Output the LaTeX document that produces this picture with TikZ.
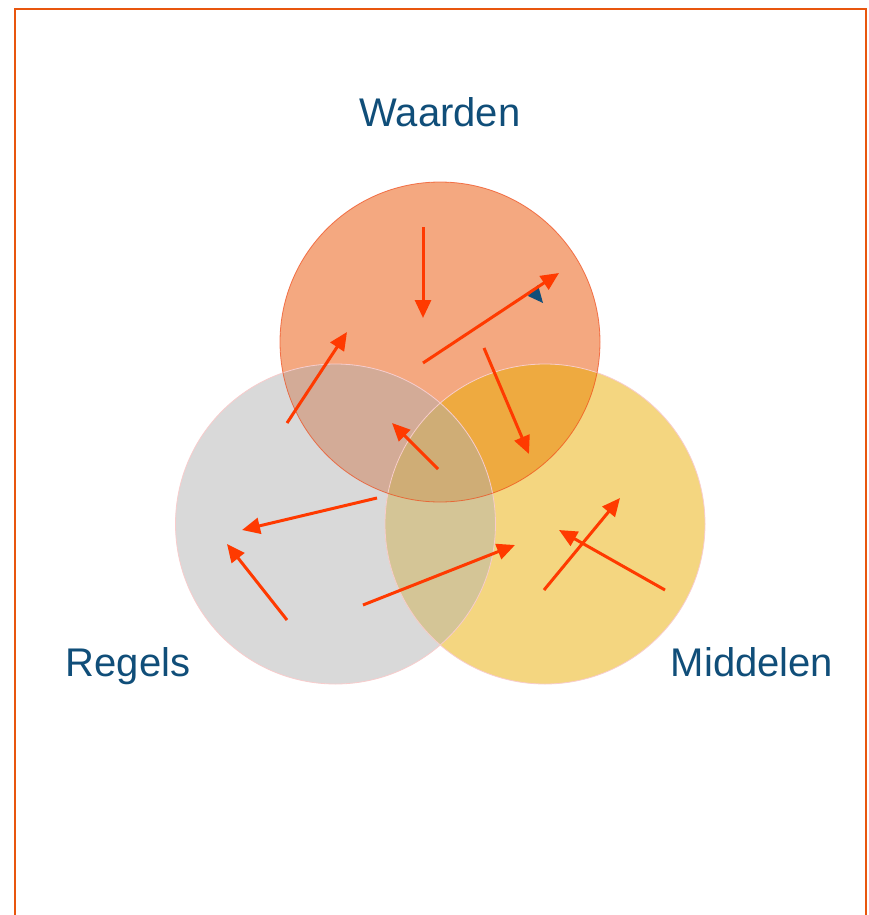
\documentclass[tikz,border=0pt]{standalone}
\usepackage{fontspec}
\setmainfont{Liberation Sans}
\usetikzlibrary{arrows.meta}
\definecolor{frameC}{HTML}{E8560E}
\definecolor{cO}{HTML}{F4A880}
\definecolor{cG}{HTML}{D9D9D9}
\definecolor{cY}{HTML}{F4D680}
\definecolor{cOG}{HTML}{D3AB97}
\definecolor{cOY}{HTML}{EEAA40}
\definecolor{cGY}{HTML}{D4C596}
\definecolor{cT}{HTML}{CFAD76}
\definecolor{arrC}{HTML}{FF3A00}
\definecolor{txtC}{HTML}{104E79}
\definecolor{rimO}{HTML}{F04A1A}
\definecolor{rimP}{HTML}{F8CCCC}
\tikzset{
  arr/.style={draw=arrC, line width=3pt, -{Triangle[length=18pt,width=16pt]}},
  lbl/.style={text=txtC, inner sep=0pt, anchor=base, font=\fontsize{40}{48}\selectfont},
  frameline/.style={draw=frameC, line width=2pt}
}
\begin{document}
\begin{tikzpicture}[x=1pt,y=-1pt]
\useasboundingbox (0,0) rectangle (868,915);
\fill[white] (0,0) rectangle (868,915);
\draw[frameline] (14.5,920) -- (14.5,9.5) -- (866,9.5) -- (866,920);

\coordinate (W) at (440,342);
\coordinate (R) at (335.5,524);
\coordinate (M) at (545,524);

\fill[cO] (W) circle (160pt);
\fill[cG] (R) circle (160pt);
\fill[cY] (M) circle (160pt);
\begin{scope}
  \clip (W) circle (160pt);
  \fill[cOG] (R) circle (160pt);
  \fill[cOY] (M) circle (160pt);
\end{scope}
\begin{scope}
  \clip (R) circle (160pt);
  \fill[cGY] (M) circle (160pt);
  \clip (M) circle (160pt);
  \fill[cT] (W) circle (160pt);
\end{scope}
\draw[rimP, line width=0.8pt] (R) circle (160pt);
\draw[rimP, line width=0.8pt] (M) circle (160pt);
\draw[rimO, line width=0.8pt, opacity=0.7] (W) circle (160pt);

% labels
\node[lbl] (waarden) at (440,127) {Waarden};
\node[lbl] (regels) at (128,676) {Regels};
\node[lbl] (middelen) at (752,676) {Middelen};

% small blue marker
\fill[txtC] (528,296) -- (543,303) -- (538,285) -- cycle;

% arrows
\coordinate (a1s) at (423,227); \coordinate (a1e) at (423,318);
\coordinate (a2s) at (423,363); \coordinate (a2e) at (559,273);
\coordinate (a3s) at (484,348); \coordinate (a3e) at (529,454);
\coordinate (a4s) at (287,423); \coordinate (a4e) at (347,332);
\coordinate (a5s) at (438,469); \coordinate (a5e) at (392,423);
\coordinate (a6s) at (377,498); \coordinate (a6e) at (242,530);
\coordinate (a7s) at (287,620); \coordinate (a7e) at (227,544);
\coordinate (a8s) at (363,605); \coordinate (a8e) at (515,545);
\coordinate (a9s) at (544,590); \coordinate (a9e) at (620,498);
\coordinate (a10s) at (665,590); \coordinate (a10e) at (559,530);
\foreach \i in {1,...,10} { \draw[arr] (a\i s) -- (a\i e); }
\end{tikzpicture}
\end{document}
